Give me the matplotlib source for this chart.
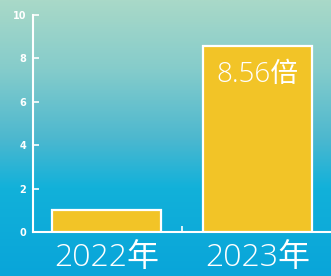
import numpy as np
import matplotlib.pyplot as plt
from matplotlib.colors import LinearSegmentedColormap

years = ['2022年', '2023年']
values = [1.0, 8.56]
ratio_label = '8.56倍'
yticks = [0, 2, 4, 6, 8, 10]

plt.rcParams['font.family'] = ['Open Sans', 'Noto Sans CJK SC', 'DejaVu Sans']

fig = plt.figure(figsize=(3.31, 2.76), dpi=100)

# gradient background
bg = fig.add_axes([0, 0, 1, 1], zorder=0)
cmap = LinearSegmentedColormap.from_list(
    'bg', [(0.0, '#a9d9c8'), (0.25, '#85cccb'), (0.5, '#4db8cf'),
           (0.68, '#12b1da'), (1.0, '#09a5d9')])
grad = np.linspace(0, 1, 256).reshape(-1, 1)
bg.imshow(grad, aspect='auto', cmap=cmap, extent=[0, 1, 0, 1])
bg.axis('off')

ax = fig.add_axes([0.0997, 0.1594, 0.9003, 0.7863], zorder=1)
ax.patch.set_alpha(0)

ax.bar(range(len(years)), values, width=0.724, color='#f2c427',
       edgecolor='white', linewidth=1.6, zorder=3)
ax.text(1, 7.22, ratio_label, ha='center', va='center', color='white',
        fontsize=20, fontweight='light')

ax.set_xlim(-0.49, 1.49)
ax.set_ylim(0, 10)
ax.set_yticks(yticks)
ax.set_yticklabels([str(t) for t in yticks], fontsize=7, fontweight='heavy',
                   color='white', family='DejaVu Sans')
ax.tick_params(axis='y', direction='in', length=4.5, width=1.2, color='white',
               pad=5)

ax.set_xticks([0, 1])
ax.set_xticklabels(years, fontsize=23, fontweight='light', color='white')
ax.tick_params(axis='x', which='major', length=0, pad=7)
ax.set_xticks([0.5], minor=True)
ax.tick_params(axis='x', which='minor', direction='in', length=4, width=1.2,
               color='white')

for side in ['top', 'right']:
    ax.spines[side].set_visible(False)
for side in ['left', 'bottom']:
    ax.spines[side].set_color('white')
    ax.spines[side].set_linewidth(1.5)

fig.savefig('out.png', dpi=100)
